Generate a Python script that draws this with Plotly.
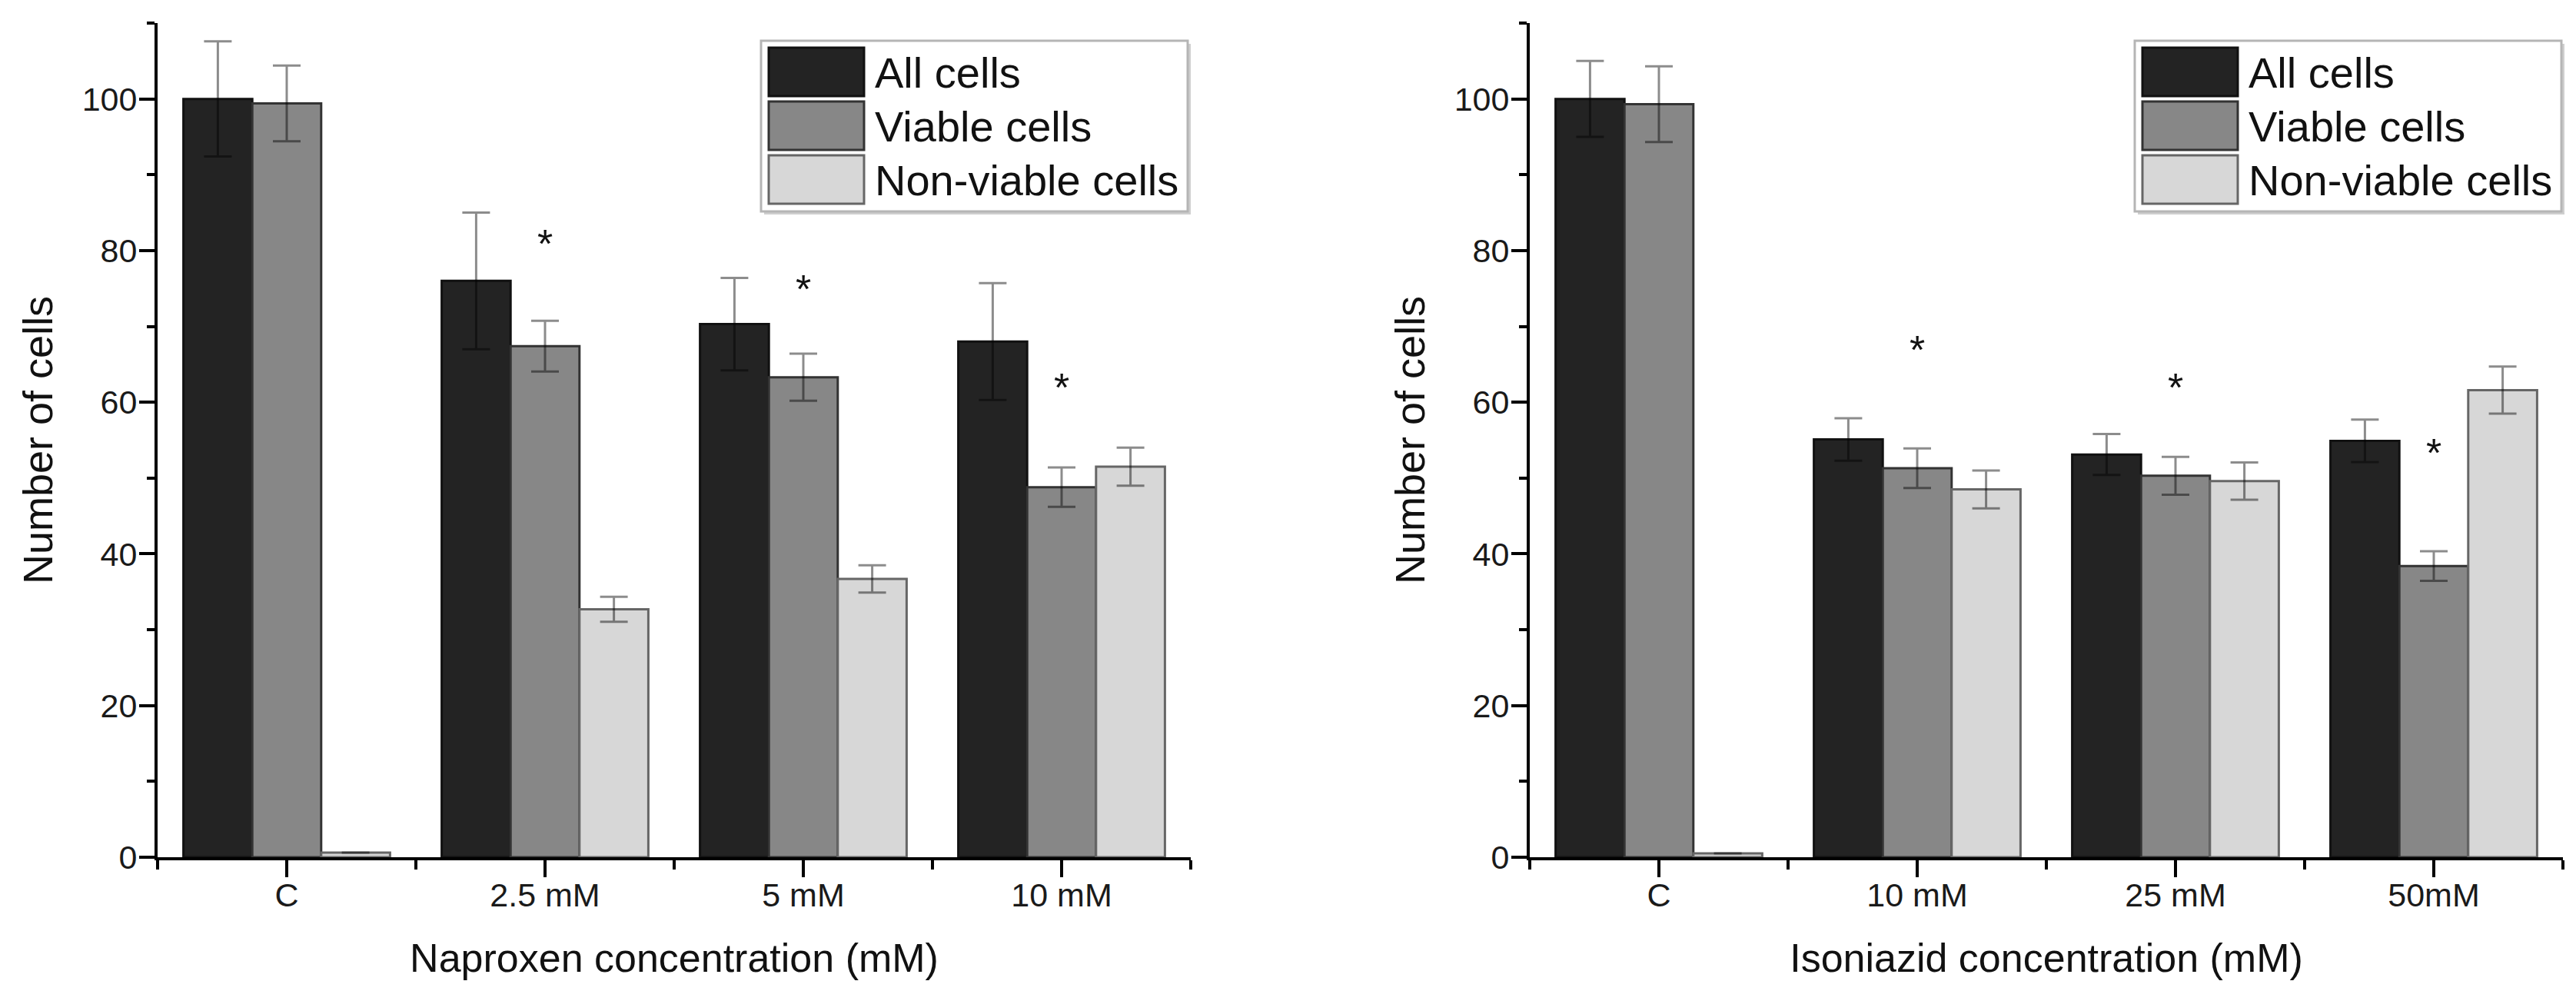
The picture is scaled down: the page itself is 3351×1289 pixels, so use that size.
import plotly.graph_objects as go

W, H = 3351, 1289

# data
series = ["All cells", "Viable cells", "Non-viable cells"]

cats_nap = ["C", "2.5 mM", "5 mM", "10 mM"]
all_nap = [100, 76.0, 70.3, 68.0]
all_nap_err = [7.6, 9.0, 6.1, 7.7]
viable_nap = [99.4, 67.4, 63.3, 48.8]
viable_nap_err = [5.0, 3.35, 3.1, 2.6]
nonviable_nap = [0.6, 32.7, 36.7, 51.5]
nonviable_nap_err = [None, 1.65, 1.8, 2.5]
stars_nap = [None, 80.4, 74.4, 61.4]

cats_iso = ["C", "10 mM", "25 mM", "50mM"]
all_iso = [100, 55.1, 53.1, 54.9]
all_iso_err = [5.0, 2.8, 2.7, 2.8]
viable_iso = [99.3, 51.3, 50.3, 38.4]
viable_iso_err = [5.0, 2.6, 2.5, 1.95]
nonviable_iso = [0.5, 48.5, 49.6, 61.6]
nonviable_iso_err = [None, 2.5, 2.45, 3.1]
stars_iso = [None, 66.4, 61.4, 52.8]

fills = ["#232323", "#878787", "#d7d7d7"]
edges = ["#111111", "#333333", "#666666"]
FONT = "Liberation Sans, Arial, sans-serif"

# plot area in pixels (whole figure coords)
L, R, T, B = 197, 3326, 22, 1107


def px(x):
    return (x - L) / (R - L)


def py(y):
    return (B - y) / (B - T)


panels = [
    ("x", "y", cats_nap, [all_nap, viable_nap, nonviable_nap],
     [all_nap_err, viable_nap_err, nonviable_nap_err], stars_nap,
     "Naproxen concentration (mM)", 982),
    ("x2", "y2", cats_iso, [all_iso, viable_iso, nonviable_iso],
     [all_iso_err, viable_iso_err, nonviable_iso_err], stars_iso,
     "Isoniazid concentration (mM)", 2769),
]

fig = go.Figure()
shapes = []
annotations = []

for xa, ya, cats, vals, errs, stars, xtitle, lx in panels:
    idx = list(range(len(cats)))
    for k in range(3):
        fig.add_trace(go.Bar(
            x=idx, y=vals[k], name=series[k], xaxis=xa, yaxis=ya,
            marker=dict(color=fills[k], line=dict(color=edges[k], width=3)),
            error_y=dict(type="data", array=errs[k], visible=True,
                         color="rgba(0,0,0,0.45)", thickness=3, width=18),
            showlegend=False,
        ))
    fig.add_trace(go.Scatter(
        x=idx, y=stars, mode="text", text=["*" if s else "" for s in stars],
        textposition="middle center", xaxis=xa, yaxis=ya,
        textfont=dict(size=52, color="#111", family=FONT), showlegend=False,
    ))

    # legend box drawn by hand (plotly swatches are too small)
    shapes.append(dict(type="rect", xref="paper", yref="paper",
                       x0=px(lx + 4), x1=px(lx + 559), y0=py(49), y1=py(271),
                       fillcolor="#cfcfcf", line=dict(width=0), layer="above"))
    shapes.append(dict(type="rect", xref="paper", yref="paper",
                       x0=px(lx), x1=px(lx + 555), y0=py(45), y1=py(267),
                       fillcolor="white", line=dict(color="#b5b5b5", width=3),
                       layer="above"))
    for k in range(3):
        top = 54 + k * 70
        shapes.append(dict(type="rect", xref="paper", yref="paper",
                           x0=px(lx + 10), x1=px(lx + 134),
                           y0=py(top), y1=py(top + 63),
                           fillcolor=fills[k], line=dict(color=edges[k], width=3),
                           layer="above"))
        annotations.append(dict(xref="paper", yref="paper", x=px(lx + 146),
                                y=py(top + 32), text=series[k], showarrow=False,
                                xanchor="left", yanchor="middle",
                                font=dict(size=56, color="#111", family=FONT)))

axis_common = dict(
    showline=True, linewidth=4, linecolor="black", showgrid=False,
    zeroline=False, ticks="outside", tickwidth=4, tickcolor="black",
    tickfont=dict(size=43, color="#1a1a1a", family=FONT),
)

fig.update_layout(
    width=W, height=H, plot_bgcolor="white", paper_bgcolor="white",
    margin=dict(l=L, r=W - R, t=T, b=H - B, autoexpand=False),
    barmode="group", bargap=0.2, bargroupgap=0,
    shapes=shapes, annotations=annotations,
    font=dict(family=FONT, color="#111"),
)

x_domains = [[0, px(1541)], [px(1982), 1]]
for i, (xa, ya, cats, vals, errs, stars, xtitle, lx) in enumerate(panels):
    sfx = "" if i == 0 else str(i + 1)
    idx = list(range(len(cats)))
    fig.update_layout(**{
        "xaxis" + sfx: dict(
            axis_common, domain=x_domains[i], anchor=ya, range=[-0.5, len(cats) - 0.5],
            tickmode="array", tickvals=idx, ticktext=cats, ticklen=22,
            ticklabelstandoff=-14,
            minor=dict(tickmode="array", tickvals=[j - 0.5 for j in range(len(cats) + 1)],
                       ticks="outside", ticklen=12, tickwidth=4, tickcolor="black"),
            title=dict(text=xtitle, font=dict(size=52, color="#111", family=FONT),
                       standoff=42),
        ),
        "yaxis" + sfx: dict(
            axis_common, domain=[0, 1], anchor=xa, range=[0, 110],
            tick0=0, dtick=20, ticklen=20, ticklabelstandoff=-6,
            minor=dict(dtick=10, ticks="outside", ticklen=10, tickwidth=4,
                       tickcolor="black"),
            title=dict(text="Number of cells", font=dict(size=54, color="#111", family=FONT),
                       standoff=22),
        ),
    })

fig.write_html("out.html")
